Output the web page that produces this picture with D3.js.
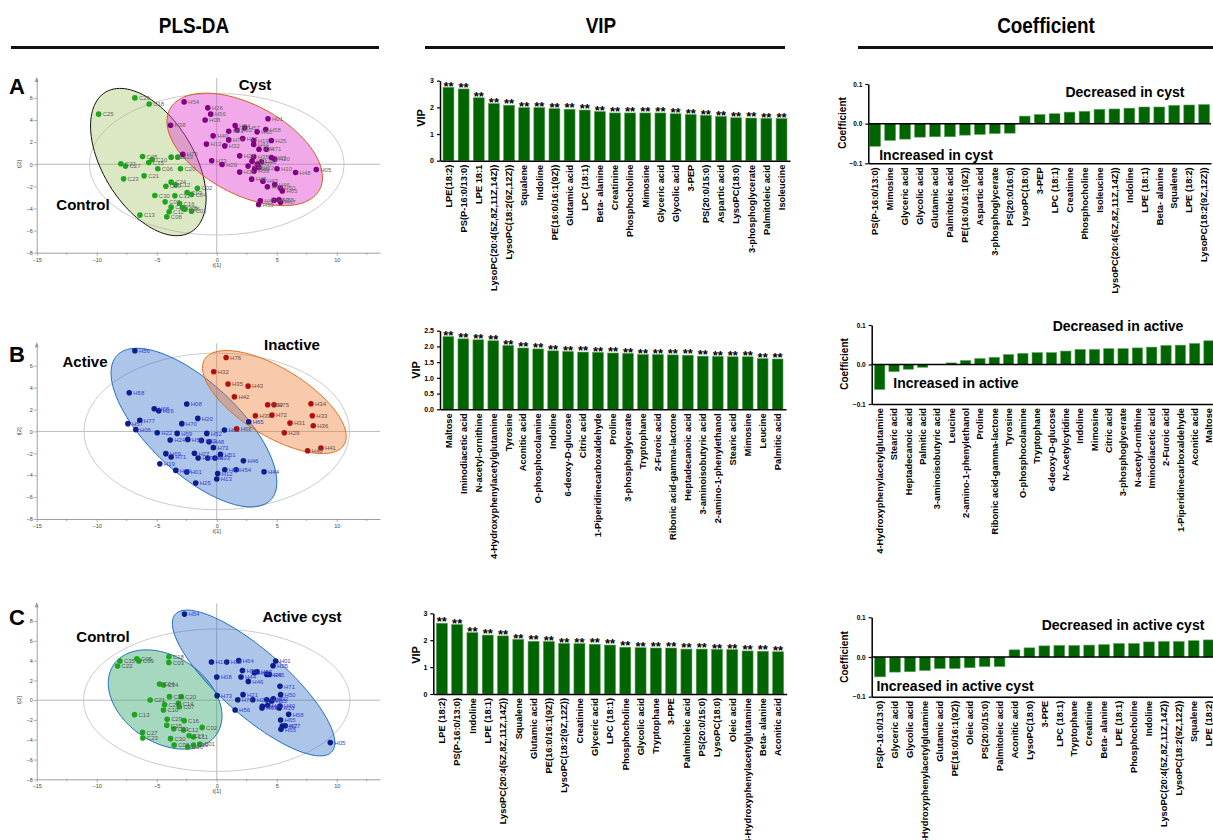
<!DOCTYPE html>
<html>
<head>
<meta charset="utf-8">
<script src="https://cdn.jsdelivr.net/npm/d3@7"></script>
<style>
  body { margin: 0; background: #fff; }
  svg { display: block; font-family: "Liberation Sans", Arial, sans-serif; }
</style>
</head>
<body>
<script>
// ---------- PLS-DA scores (name, t[1], t[2]) ----------
const scoresA_control = [["C29",-6.82,6.0],["C18",-5.63,5.45],["C25",-9.84,4.53],["C05",-6.18,0.7],["C10",-5.38,0.43],["C15",-5.66,0.16],["C22",-7.99,0.04],["C27",-7.6,-0.17],["C06",-4.91,-0.41],["C14",-3.8,0.64],["C19",-3.24,0.64],["C20",-3.02,-0.41],["C23",-7.76,-1.32],["C21",-6.05,-1.05],["C24",-3.8,-1.62],["C12",-3.44,-1.86],["C09",-4.24,-1.99],["C02",-1.61,-2.17],["C30",-5.16,-2.83],["C31",-3.49,-2.86],["C03",-2.47,-2.56],["C04",-2.1,-2.74],["C07",-4.3,-3.4],["C16",-3.1,-3.55],["C17",-3.8,-3.88],["C28",-2.86,-3.94],["C26",-2.66,-4.06],["C01",-2.1,-4.24],["C11",-3.97,-4.3],["C13",-6.4,-4.6],["C08",-4.16,-4.75]];
const scoresA_cyst = [["H54",-2.72,5.64],["H26",-0.75,5.1],["H56",-0.5,4.53],["H08",-0.97,4.0],["H01",4.27,4.11],["H38",-3.85,3.53],["H64",1.53,3.5],["H61",1.0,2.99],["H62",1.69,3.1],["H57",2.33,3.29],["H60",3.36,2.93],["H58",4.08,3.14],["H40",-0.3,2.57],["H76",1.0,2.2],["H27",2.16,2.33],["H19",3.08,2.15],["H25",4.55,2.15],["H13",-0.86,1.82],["H32",0.67,1.66],["H44",3.08,1.78],["H71",4.13,1.36],["H34",3.52,1.36],["H75",-2.83,0.91],["H28",1.91,0.76],["H35",3.08,0.67],["H63",4.55,0.61],["H20",4.83,0.46],["H31",2.94,0.28],["H42",3.72,0.22],["H37",3.38,0.01],["H73",-0.42,0.31],["H29",0.44,-0.02],["H52",2.61,-0.17],["H69",3.16,-0.38],["H22",3.52,-0.29],["H10",5.02,-0.41],["H48",6.57,-0.74],["H05",8.29,-0.47],["H36",1.91,-0.71],["H59",3.11,-0.62],["H45",2.91,-1.35],["H43",3.85,-1.53],["H46",4.83,-1.83],["H49",4.22,-2.04],["H50",5.3,-2.14],["H65",5.46,-2.41],["H47",3.63,-3.31],["H39",3.49,-3.64],["H53",4.77,-3.25],["H55",5.19,-3.22],["H67",5.32,-3.43]];

const scoresB_active = [["H56",-6.82,7.37],["H58",-7.29,3.53],["H68",-5.21,2.07],["H26",-4.83,1.89],["H08",-2.5,2.5],["H77",-6.41,1.01],["H20",-1.58,1.19],["H70",-2.91,0.71],["H57",-7.4,0.71],["H06",-6.74,0.16],["H22",-4.96,-0.12],["H59",-3.3,-0.18],["H60",0.64,0.13],["H52",-0.83,-0.18],["H24",-3.88,-0.79],["H50",-2.41,-0.73],["H53",-1.28,-0.82],["H48",-0.64,-0.94],["H73",-0.28,-1.48],["H69",-4.24,-2.03],["H71",-3.8,-2.33],["H27",-1.86,-2.0],["H47",-1.55,-2.43],["H45",-0.75,-2.43],["H03",-0.14,-2.43],["H51",0.31,-2.1],["H46",2.22,-2.69],["H19",-4.74,-2.96],["H18",0.67,-3.5],["H54",1.61,-3.5],["H44",3.94,-3.69],["H09",-3.41,-3.56],["H01",-2.5,-3.7],["H12",0.08,-3.84],["H13",0.0,-4.35],["H25",-1.75,-4.72],["H65",2.66,0.89]];
const scoresB_inactive = [["H76",0.78,6.75],["H32",-0.25,5.45],["H35",0.94,4.33],["H43",2.61,4.14],["H42",1.47,3.17],["H30",4.24,2.43],["H75",4.77,2.43],["H34",7.85,2.53],["H72",4.6,1.49],["H39",3.22,1.43],["H33",7.96,1.43],["H31",6.1,0.76],["H36",8.04,0.52],["H29",5.63,-0.12],["H40",7.57,-1.76],["H41",8.68,-1.52],["H66",1.66,0.25]];

const scoresC_control = [["C05",-6.66,4.19],["C35",-8.07,3.96],["C09",-6.49,3.96],["C22",-8.26,3.45],["C18",-3.99,4.39],["C03",-3.99,3.82],["C04",-4.77,1.63],["C24",-4.44,1.54],["C26",-3.94,0.36],["C20",-2.97,0.36],["C21",-5.55,0.02],["C28",-4.35,-0.45],["C14",-3.19,-0.32],["C07",-3.11,-0.66],["C10",-4.44,-0.99],["C13",-6.85,-1.46],["C29",-4.13,-1.93],["C16",-2.72,-2.07],["C15",-4.16,-2.54],["C31",-3.58,-2.88],["C12",-2.77,-3.01],["C02",-1.22,-2.75],["C27",-6.18,-3.25],["C23",-6.16,-3.82],["C30",-3.85,-3.89],["C17",-2.3,-3.59],["C11",-1.94,-3.72],["C08",-3.55,-4.53],["C06",-2.41,-4.73],["C19",-1.94,-4.53],["C01",-1.41,-4.43]];
const scoresC_activeCyst = [["H54",-2.69,8.71],["H13",-0.44,3.86],["H38",0.83,3.86],["H64",1.83,4.02],["H01",4.91,3.96],["H25",4.69,3.48],["H52",2.14,3.01],["H61",3.13,2.78],["H57",3.36,2.88],["H26",4.16,2.61],["H45",4.38,2.61],["H08",0,2.34],["H44",2.02,2.34],["H46",2.63,1.9],["H71",5.27,1.4],["H73",0.03,0.46],["H21",2.19,0.56],["H50",5.32,0.56],["H76",1.75,0.05],["H20",3.0,0.05],["H29",4.16,0.05],["H35",4.58,-0.08],["H32",4.71,0.15],["H41",4.24,-0.52],["H63",3.77,-0.79],["H69",3.8,-0.62],["H10",5.21,-0.79],["H40",5.27,-0.59],["H56",1.53,-0.99],["H58",5.99,-1.43],["H65",5.32,-2.0],["H67",5.46,-2.61],["H27",5.71,-2.58],["H55",5.35,-2.95],["H05",9.46,-4.29]];

// confidence ellipses: [centre t1, centre t2, semi-axis a, semi-axis b, angle deg]
const hotellingA = [0, 0, 10.6, 6.4, 0];
const ellipseA_control = [-5.7, 0.2, 7.26, 3.85, 118];
const ellipseA_cyst = [2.33, 1.34, 7.23, 3.95, -32];
const hotellingB = [0, 0, 11.05, 7.15, 0];
const ellipseB_active = [-1.9, 0.35, 9.2, 3.95, -47];
const ellipseB_inactive = [4.8, 2.68, 7.0, 3.0, -35];
const hotellingC = [0, 0, 11.1, 7.2, 0];
const ellipseC_control = [-4.3, 0.07, 5.64, 3.98, -50];
const ellipseC_activeCyst = [3.07, 1.74, 9.55, 3.0, -48];

// ---------- VIP ----------
const vipA_names = ["LPE(18:2)","PS(P-16:0/13:0)","LPE 18:1","LysoPC(20:4(5Z,8Z,11Z,14Z))","LysoPC(18:2(9Z,12Z))","Squalene","Indoline","PE(16:0/16:1(9Z))","Glutamic acid","LPC (18:1)","Beta- alanine","Creatinine","Phosphocholine","Mimosine","Glyceric acid","Glycolic acid","3-PEP","PS(20:0/15:0)","Aspartic acid","LysoPC(18:0)","3-phosphoglycerate","Palmitoleic acid","Isoleucine"];
const vipA_values = [2.75,2.69,2.36,2.14,2.08,1.99,1.99,1.95,1.93,1.9,1.84,1.79,1.79,1.79,1.79,1.76,1.73,1.7,1.66,1.61,1.6,1.59,1.58];

const vipB_names = ["Maltose","Iminodiacetic acid","N-acetyl-ornithine","4-Hydroxyphenylacetylglutamine","Tyrosine","Aconitic acid","O-phosphocolamine","Indoline","6-deoxy-D-glucose","Citric acid","1-Piperidinecarboxaldehyde","Proline","3-phosphoglycerate","Tryptophane","2-Furoic acid","Ribonic acid-gamma-lactone","Heptadecanoic acid","3-aminoisobutyric acid","2-amino-1-phenylethanol","Stearic acid","Mimosine","Leucine","Palmitic acid"];
const vipB_values = [2.31,2.24,2.21,2.18,2.03,1.95,1.92,1.86,1.84,1.82,1.81,1.79,1.78,1.74,1.74,1.73,1.72,1.69,1.68,1.67,1.67,1.61,1.6];

const vipC_names = ["LPE (18:2)","PS(P-16:0/13:0)","Indoline","LPE (18:1)","LysoPC(20:4(5Z,8Z,11Z,14Z))","Squalene","Glutamic acid","PE(16:0/16:1(9Z))","LysoPC(18:2(9Z,12Z))","Creatinine","Glyceric acid","LPC (18:1)","Phosphocholine","Glycolic acid","Tryptophane","3-PPE","Palmitoleic acid","PS(20:0/15:0)","LysoPC(18:0)","Oleic acid","4-Hydroxyphenylacetylglutamine","Beta- alanine","Aconitic acid"];
const vipC_values = [2.63,2.58,2.28,2.19,2.16,2.03,1.96,1.95,1.88,1.87,1.85,1.82,1.74,1.72,1.71,1.71,1.67,1.67,1.66,1.65,1.6,1.59,1.57];

// ---------- Coefficients ----------
const coefA_names = ["PS(P-16:0/13:0)","Mimosine","Glyceric acid","Glycolic acid","Glutamic acid","Palmitoleic acid","PE(16:0/16:1(9Z))","Aspartic acid","3-phosphoglycerate","PS(20:0/16:0)","LysoPC(18:0)","3-PEP","LPC (18:1)","Creatinine","Phosphocholine","Isoleucine","LysoPC(20:4(5Z,8Z,11Z,14Z))","Indoline","LPE (18:1)","Beta- alanine","Squalene","LPE (18:2)","LysoPC(18:2(9Z,12Z))"];
const coefA_values = [-0.057,-0.042,-0.039,-0.034,-0.033,-0.033,-0.029,-0.027,-0.025,-0.024,0.019,0.023,0.025,0.029,0.031,0.036,0.037,0.039,0.042,0.042,0.046,0.047,0.048];

const coefB_names = ["4-Hydroxyphenylacetylglutamine","Stearic acid","Heptadecanoic acid","Palmitic acid","3-aminoisobutyric acid","Leucine","2-amino-1-phenylethanol","Proline","Ribonic acid-gamma-lactone","Tyrosine","O-phosphocolamine","Tryptophane","6-deoxy-D-glucose","N-Acetylcytidine","Indoline","Mimosine","Citric acid","3-phosphoglycerate","N-acetyl-ornithine","Iminodiacetic acid","2-Furoic acid","1-Piperidinecarboxaldehyde","Aconitic acid","Maltose"];
const coefB_values = [-0.063,-0.018,-0.012,-0.007,0.0005,0.004,0.01,0.015,0.018,0.025,0.028,0.03,0.03,0.034,0.038,0.038,0.04,0.04,0.042,0.044,0.048,0.049,0.053,0.06];

const coefC_names = ["PS(P-16:0/13:0)","Glyceric acid","Glycolic acid","4-Hydroxyphenylacetylglutamine","Glutamic acid","PE(16:0/16:1(9Z))","Oleic acid","PS(20:0/15:0)","Palmitoleic acid","Aconitic acid","LysoPC(18:0)","3-PPE","LPC (18:1)","Tryptophane","Creatinine","Beta- alanine","LPE (18:1)","Phosphocholine","Indoline","LysoPC(20:4(5Z,8Z,11Z,14Z))","LysoPC(18:2(9Z,12Z))","Squalene","LPE (18:2)"];
const coefC_values = [-0.05,-0.038,-0.037,-0.034,-0.029,-0.029,-0.027,-0.024,-0.024,0.018,0.023,0.028,0.029,0.029,0.03,0.031,0.034,0.034,0.038,0.039,0.039,0.041,0.043];

const vipTicks3 = [0, 1, 2, 3];
const vipTicks25 = [0, 0.5, 1.0, 1.5, 2.0, 2.5];
const coefTicks = [-0.1, 0.0, 0.1];

const svg = d3.select('body').append('svg')
  .attr('width', 1213)
  .attr('height', 840);

// headers
const headers = [["PLS-DA", 194, 11, 379], ["VIP", 601, 425, 785], ["Coefficient", 1046, 858, 1213]];
headers.forEach(h => {
  svg.append('text').attr('x', h[1]).attr('y', 33)
    .attr('text-anchor', 'middle').attr('font-size', 22).attr('font-weight', 'bold')
    .attr('transform', `translate(${h[1]},0) scale(0.86,1) translate(${-h[1]},0)`)
    .text(h[0]);
  svg.append('line').attr('x1', h[2]).attr('x2', h[3]).attr('y1', 47.5).attr('y2', 47.5)
    .attr('stroke', '#111').attr('stroke-width', 3);
});

function ellipsePath(e, x, y) {
  const th = e[4] * Math.PI / 180;
  const pts = d3.range(0, 361, 3).map(deg => {
    const t = deg * Math.PI / 180;
    return [e[0] + e[2] * Math.cos(t) * Math.cos(th) - e[3] * Math.sin(t) * Math.sin(th),
            e[1] + e[2] * Math.cos(t) * Math.sin(th) + e[3] * Math.sin(t) * Math.cos(th)];
  });
  return d3.line().x(d => x(d[0])).y(d => y(d[1])).curve(d3.curveLinearClosed)(pts);
}

function scoresPlot(o) {
  const g = svg.append('g');
  const x = d3.scaleLinear().domain([-15, 13.6]).range([36.7, 380]);
  const y = d3.scaleLinear().domain(o.yDomain).range(o.yRange);
  const yb = y(o.yDomain[0]), yt = y(o.yDomain[1]);

  // zero lines
  g.append('line').attr('x1', x(-15)).attr('x2', x(13.6)).attr('y1', y(0)).attr('y2', y(0))
    .attr('stroke', '#a8a8a8').attr('stroke-width', 0.8);
  g.append('line').attr('x1', x(0)).attr('x2', x(0)).attr('y1', yt).attr('y2', yb)
    .attr('stroke', '#a8a8a8').attr('stroke-width', 0.8);

  // ellipses
  g.append('path').attr('d', ellipsePath(o.hotelling, x, y))
    .attr('fill', 'none').attr('stroke', '#c4c4c4').attr('stroke-width', 0.9);
  o.groups.forEach(gr => {
    g.append('path').attr('d', ellipsePath(gr.ellipse, x, y))
      .attr('fill', gr.fill).attr('fill-opacity', gr.fillOpacity)
      .attr('stroke', gr.stroke).attr('stroke-width', 1);
  });
  o.groups.forEach(gr => {
    g.selectAll(null).data(gr.points).join('circle')
      .attr('cx', d => x(d[1])).attr('cy', d => y(d[2])).attr('r', 2.8)
      .attr('fill', gr.color);
    g.selectAll(null).data(gr.points).join('text')
      .attr('x', d => x(d[1]) + 4).attr('y', d => y(d[2]) + 2.2)
      .attr('font-size', 6).attr('fill', gr.labelColor)
      .text(d => d[0]);
  });

  // axes
  const xa = g.append('g').attr('transform', `translate(0,${yb})`)
    .call(d3.axisBottom(x).tickValues([-15, -10, -5, 0, 5, 10]).tickSize(3).tickSizeOuter(0));
  const minor = [-12.5, -7.5, -2.5, 2.5, 7.5, 12.5];
  xa.selectAll('.minor').data(minor).join('line').attr('class', 'minor')
    .attr('x1', d => x(d)).attr('x2', d => x(d)).attr('y1', 0).attr('y2', 2)
    .attr('stroke', '#777').attr('stroke-width', 0.6);
  const ya = g.append('g').attr('transform', `translate(${x(-15)},0)`)
    .call(d3.axisLeft(y).tickValues(o.yTicks).tickSize(3).tickSizeOuter(0));
  [xa, ya].forEach(a => {
    a.select('.domain').attr('stroke', '#777').attr('stroke-width', 0.7);
    a.selectAll('.tick line').attr('stroke', '#777').attr('stroke-width', 0.6);
    a.selectAll('text').attr('font-size', 5.5).attr('fill', '#444')
      .attr('font-family', '"Liberation Sans", Arial, sans-serif');
  });
  ya.selectAll('text').attr('x', -4);
  xa.selectAll('text').attr('y', 5);
  // arrow on y axis
  g.append('path')
    .attr('d', `M${x(-15) - 2},${yt + 4}L${x(-15)},${yt - 1}L${x(-15) + 2},${yt + 4}Z`)
    .attr('fill', '#999');

  g.append('text').attr('x', x(0)).attr('y', yb + 14).attr('text-anchor', 'middle')
    .attr('font-size', 6).attr('fill', '#444').text('t[1]');
  g.append('text').attr('transform', `translate(21,${y(0)}) rotate(-90)`)
    .attr('text-anchor', 'middle').attr('font-size', 6).attr('fill', '#444').text('t[2]');

  // panel letter and group names
  g.append('text').attr('x', 9).attr('y', o.letterY).attr('font-size', 22)
    .attr('font-weight', 'bold').text(o.letter);
  o.names.forEach(n => {
    g.append('text').attr('x', n[1]).attr('y', n[2]).attr('text-anchor', 'middle')
      .attr('font-size', 15).attr('font-weight', 'bold').text(n[0]);
  });
}

scoresPlot({
  letter: 'A', letterY: 94,
  yDomain: [-8, 7.8], yRange: [252.7, 78], yTicks: [-8, -6, -4, -2, 0, 2, 4, 6],
  hotelling: hotellingA,
  groups: [
    { points: scoresA_control, ellipse: ellipseA_control, fill: '#9cbf5a', fillOpacity: 0.36,
      stroke: '#111', color: '#1ea51e', labelColor: '#666' },
    { points: scoresA_cyst, ellipse: ellipseA_cyst, fill: '#e040d0', fillOpacity: 0.45,
      stroke: '#d0601a', color: '#820082', labelColor: '#666' }
  ],
  names: [["Cyst", 255, 90], ["Control", 83, 210]]
});

scoresPlot({
  letter: 'B', letterY: 362,
  yDomain: [-8, 8.05], yRange: [519, 343.3], yTicks: [-8, -6, -4, -2, 0, 2, 4, 6],
  hotelling: hotellingB,
  groups: [
    { points: scoresB_active, ellipse: ellipseB_active, fill: '#2f6fc8', fillOpacity: 0.4,
      stroke: '#1f6fc0', color: '#0b1e8c', labelColor: '#3a3ad0' },
    { points: scoresB_inactive, ellipse: ellipseB_inactive, fill: '#f07830', fillOpacity: 0.4,
      stroke: '#e07020', color: '#b01010', labelColor: '#6a4a4a' }
  ],
  names: [["Active", 85, 367], ["Inactive", 292, 350]]
});

scoresPlot({
  letter: 'C', letterY: 625,
  yDomain: [-8, 9.8], yRange: [779.3, 603.3], yTicks: [-8, -6, -4, -2, 0, 2, 4, 6, 8],
  hotelling: hotellingC,
  groups: [
    { points: scoresC_control, ellipse: ellipseC_control, fill: '#3aa870', fillOpacity: 0.45,
      stroke: '#1f6fc0', color: '#1ea51e', labelColor: '#555' },
    { points: scoresC_activeCyst, ellipse: ellipseC_activeCyst, fill: '#2f6fc8', fillOpacity: 0.4,
      stroke: '#1f6fc0', color: '#0b1e8c', labelColor: '#3a3ad0' }
  ],
  names: [["Control", 103, 642], ["Active cyst", 302, 622]]
});

// ---------- bar charts ----------
function barChart(names, values, o) {
  const g = svg.append('g');
  const x = d3.scaleBand().domain(names).range([o.x0, o.x1])
    .paddingInner(0.28).paddingOuter(o.po);
  const y = d3.scaleLinear().domain(o.domain).range([o.yBottom, o.yTop]);

  g.selectAll('rect').data(values).join('rect')
    .attr('x', (d, i) => x(names[i]))
    .attr('width', x.bandwidth())
    .attr('y', d => Math.min(y(d), y(0)))
    .attr('height', d => Math.abs(y(d) - y(0)))
    .attr('fill', '#006400')
    .attr('stroke', '#55a055')
    .attr('stroke-width', 0.6);

  if (o.stars) {
    g.selectAll('.star').data(values).join('text').attr('class', 'star')
      .attr('x', (d, i) => x(names[i]) + x.bandwidth() / 2)
      .attr('y', d => y(d) + 3.2)
      .attr('text-anchor', 'middle').attr('font-size', 13).attr('font-weight', 'bold')
      .text('**');
  }

  const ya = g.append('g').attr('transform', `translate(${o.x0},0)`)
    .call(d3.axisLeft(y).tickValues(o.ticks).tickSize(3).tickSizeOuter(0).tickFormat(o.fmt));
  ya.select('.domain').attr('stroke', '#000').attr('stroke-width', 1.5);
  ya.selectAll('.tick line').attr('stroke', '#000').attr('stroke-width', 1.2);
  ya.selectAll('text').attr('font-size', o.tickFont).attr('font-weight', 'bold')
    .attr('font-family', '"Liberation Sans", Arial, sans-serif');

  const xa = g.append('g').attr('transform', `translate(0,${y(o.domain[0])})`)
    .call(d3.axisBottom(x).tickSize(0).tickSizeOuter(0));
  xa.select('.domain').attr('stroke', '#000').attr('stroke-width', 1.5);
  xa.selectAll('text')
    .attr('transform', 'rotate(-90)')
    .attr('text-anchor', 'end')
    .attr('x', -4).attr('y', 0).attr('dy', '0.35em')
    .attr('font-size', 9.3).attr('font-weight', 'bold')
    .attr('font-family', '"Liberation Sans", Arial, sans-serif');

  if (o.domain[0] < 0) {
    g.append('line').attr('x1', o.x0).attr('x2', o.x1).attr('y1', y(0)).attr('y2', y(0))
      .attr('stroke', '#000').attr('stroke-width', 1.5);
  }

  g.append('text').attr('transform', `translate(${o.titleX},${o.titleY}) rotate(-90)`)
    .attr('text-anchor', 'middle').attr('font-size', o.titleFont).attr('font-weight', 'bold')
    .text(o.title);

  (o.notes || []).forEach(n => {
    g.append('text').attr('x', n[1]).attr('y', n[2]).attr('text-anchor', 'middle')
      .attr('font-size', 14).attr('font-weight', 'bold').text(n[0]);
  });
}

const fmtInt = d3.format('d');
const fmt1 = d3.format('.1f');

barChart(vipA_names, vipA_values, {
  x0: 440, x1: 790, po: 0.2, domain: [0, 3], yBottom: 160.7, yTop: 80.7,
  ticks: vipTicks3, fmt: fmtInt, tickFont: 7, stars: true,
  title: 'VIP', titleX: 425, titleY: 118, titleFont: 11
});
barChart(vipB_names, vipB_values, {
  x0: 440, x1: 786, po: 0.2, domain: [0, 2.5], yBottom: 409.3, yTop: 330.7,
  ticks: vipTicks25, fmt: fmt1, tickFont: 7, stars: true,
  title: 'VIP', titleX: 420, titleY: 370, titleFont: 11
});
barChart(vipC_names, vipC_values, {
  x0: 433.3, x1: 786.7, po: 0.2, domain: [0, 3], yBottom: 694, yTop: 613.3,
  ticks: vipTicks3, fmt: fmtInt, tickFont: 7, stars: true,
  title: 'VIP', titleX: 420, titleY: 655, titleFont: 11
});

barChart(coefA_names, coefA_values, {
  x0: 868.3, x1: 1211, po: 0.1, domain: [-0.1, 0.1], yBottom: 163.3, yTop: 84,
  ticks: coefTicks, fmt: fmt1, tickFont: 6.5, stars: false,
  title: 'Coefficient', titleX: 846, titleY: 123, titleFont: 10,
  notes: [["Decreased in cyst", 1125, 97], ["Increased in cyst", 936, 160]]
});
barChart(coefB_names, coefB_values, {
  x0: 871.7, x1: 1217, po: 0.2, domain: [-0.1, 0.1], yBottom: 404, yTop: 325,
  ticks: coefTicks, fmt: fmt1, tickFont: 6.5, stars: false,
  title: 'Coefficient', titleX: 848, titleY: 364, titleFont: 10,
  notes: [["Decreased in active", 1118, 331], ["Increased in active", 956, 388]]
});
barChart(coefC_names, coefC_values, {
  x0: 871.7, x1: 1217, po: 0.2, domain: [-0.1, 0.1], yBottom: 696.7, yTop: 617.3,
  ticks: coefTicks, fmt: fmt1, tickFont: 6.5, stars: false,
  title: 'Coefficient', titleX: 848, titleY: 657, titleFont: 10,
  notes: [["Decreased in active cyst", 1123, 630], ["Increased in active cyst", 955, 691]]
});
</script>
</body>
</html>
